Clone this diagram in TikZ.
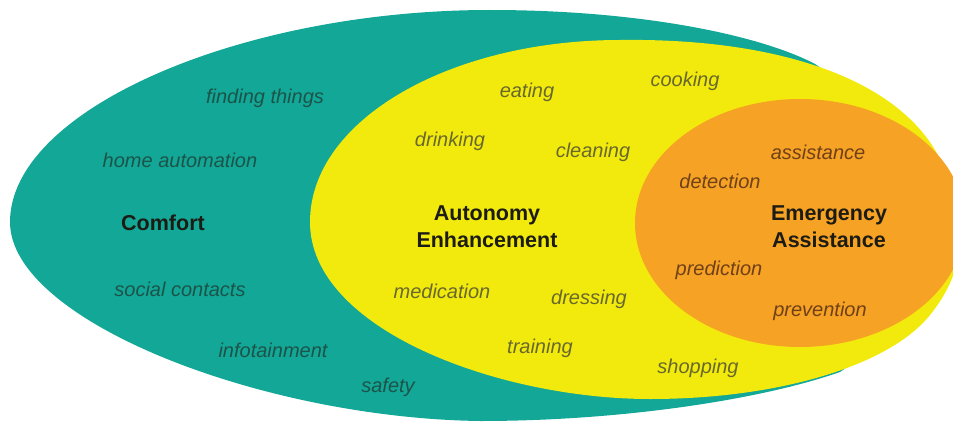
\documentclass[tikz,border=0pt]{standalone}
\usepackage{fontspec}
\setmainfont{Liberation Sans}
\definecolor{tealfill}{RGB}{18,167,150}
\definecolor{yelfill}{RGB}{242,234,12}
\definecolor{orgfill}{RGB}{246,162,36}
\definecolor{tealtext}{RGB}{28,84,74}
\definecolor{yeltext}{RGB}{104,104,44}
\definecolor{orgtext}{RGB}{112,64,24}
\definecolor{boldtext}{RGB}{28,28,20}
\tikzset{
  item/.style={font=\fontsize{20}{23}\selectfont\itshape, inner sep=0pt},
  onteal/.style={item, text=tealtext},
  onyel/.style={item, text=yeltext},
  onorg/.style={item, text=orgtext},
  head/.style={font=\fontsize{21.5}{27}\selectfont\bfseries, text=boldtext, align=center, inner sep=0pt}
}
\begin{document}
\begin{tikzpicture}[x=1pt,y=-1pt]
\useasboundingbox (0,0) rectangle (953,428);
\begin{scope}
\clip (0,0) rectangle (953,428);
% outer comfort region (egg shape)
\fill[tealfill] (10,222) .. controls (10,110) and (240,10) .. (490,10)
  .. controls (640,10) and (760,35) .. (815,64)
  .. controls (870,100) and (925,170) .. (920,240)
  .. controls (915,300) and (880,345) .. (840,372)
  .. controls (760,400) and (620,421) .. (480,421)
  .. controls (260,418) and (10,320) .. (10,222) -- cycle;
% autonomy enhancement region
\fill[yelfill] (310,222) .. controls (310,120) and (450,40) .. (620,40)
  .. controls (770,38) and (890,75) .. (935,150)
  .. controls (965,200) and (975,260) .. (930,315)
  .. controls (890,365) and (780,399) .. (650,399)
  .. controls (500,399) and (310,330) .. (310,222) -- cycle;
% emergency assistance region
\fill[orgfill] (800,223) ellipse [x radius=165pt, y radius=124pt];
\end{scope}
% Comfort
\node[onteal] (finding) at (265,98) {finding things};
\node[onteal] (homeauto) at (180,160) {home automation};
\node[head] (comfort) at (163,223) {Comfort};
\node[onteal] (social) at (180,289) {social contacts};
\node[onteal] (info) at (273,350) {infotainment};
\node[onteal] (safety) at (388,387) {safety};
% Autonomy
\node[onyel] (eating) at (527,92) {eating};
\node[onyel] (cooking) at (685,81) {cooking};
\node[onyel] (drinking) at (450,141) {drinking};
\node[onyel] (cleaning) at (593,152) {cleaning};
\node[head] (auto) at (487,227) {Autonomy\\Enhancement};
\node[onyel] (medication) at (442,291) {medication};
\node[onyel] (dressing) at (589,299) {dressing};
\node[onyel] (training) at (540,348) {training};
\node[onyel] (shopping) at (698,368) {shopping};
% Emergency
\node[onorg] (assist) at (818,152) {assistance};
\node[onorg] (detect) at (720,181) {detection};
\node[head] (emerg) at (829,227) {Emergency\\Assistance};
\node[onorg] (predict) at (719,270) {prediction};
\node[onorg] (prevent) at (820,311) {prevention};
\end{tikzpicture}
\end{document}
